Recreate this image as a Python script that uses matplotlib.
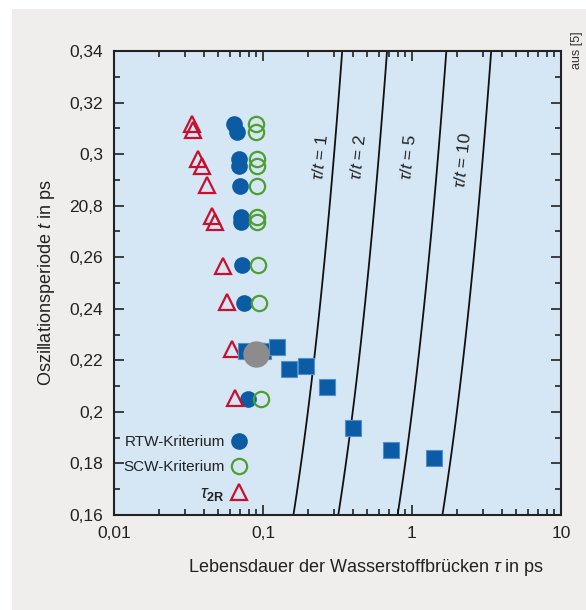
import matplotlib
matplotlib.use("Agg")
import matplotlib.pyplot as plt
import numpy as np
from matplotlib.patches import Rectangle
from matplotlib.ticker import LogLocator, NullFormatter, FixedLocator

FONT = ['Liberation Sans', 'DejaVu Sans']
plt.rcParams['font.family'] = FONT
plt.rcParams['mathtext.fontset'] = 'custom'
plt.rcParams['mathtext.rm'] = 'Liberation Sans'
plt.rcParams['mathtext.it'] = 'Liberation Sans:italic'
plt.rcParams['mathtext.bf'] = 'Liberation Sans:bold'

# ---- data ----
tri_x = [0.0334, 0.0339, 0.0366, 0.0388, 0.0421, 0.0453, 0.0477, 0.0536, 0.0574, 0.0616, 0.0649]
tri_y = [0.3117, 0.3094, 0.2981, 0.2955, 0.2880, 0.2760, 0.2737, 0.2567, 0.2426, 0.2244, 0.2054]

rtw_x = [0.0638, 0.0669, 0.0687, 0.0687, 0.0705, 0.0708, 0.0708, 0.0723, 0.0746, 0.0789]
rtw_y = [0.3117, 0.3087, 0.2981, 0.2955, 0.2876, 0.2757, 0.2736, 0.2568, 0.2423, 0.2051]

scw_x = [0.0897, 0.0897, 0.0907, 0.0907, 0.0916, 0.0916, 0.0916, 0.0925, 0.0944, 0.1000, 0.0970]
scw_y = [0.3117, 0.3087, 0.2981, 0.2955, 0.2876, 0.2757, 0.2736, 0.2568, 0.2423, 0.2238, 0.2051]

sq_x = [0.0774, 0.1000, 0.1236, 0.1488, 0.1945, 0.2677, 0.4036, 0.7227, 1.406]
sq_y = [0.2236, 0.2236, 0.2253, 0.2166, 0.2179, 0.2098, 0.1939, 0.1852, 0.1822]

gray_x = [0.0897]
gray_y = [0.2225]

ratios = [1, 2, 5, 10]
ratio_label_pos = [(0.2413, 0.2989), (0.434, 0.2989), (0.940, 0.2989), (2.198, 0.2977)]

ytick_vals = [0.16, 0.18, 0.20, 0.22, 0.24, 0.26, 0.28, 0.30, 0.32, 0.34]
ytick_labels = ['0,16', '0,18', '0,2', '0,22', '0,24', '0,26', '20,8', '0,3', '0,32', '0,34']
xtick_vals = [0.01, 0.1, 1, 10]
xtick_labels = ['0,01', '0,1', '1', '10']

BLUE = '#0b5ca5'
GREEN = '#4e9f2f'
RED = '#c8102e'
GRAY = '#8c8c8c'
TXT = '#222222'

fig = plt.figure(figsize=(5.86, 6.10), dpi=100)
fig.patch.set_facecolor('white')
fig.patches.append(Rectangle((12 / 586, 0), 1, 1 - 9 / 610, transform=fig.transFigure,
                             facecolor='#efeeed', edgecolor='none', zorder=-10))

ax = fig.add_axes([114 / 586, 1 - 515 / 610, 447 / 586, 464 / 610])
ax.set_facecolor('#d5e6f5')
ax.set_xscale('log')
ax.set_xlim(0.01, 10)
ax.set_ylim(0.16, 0.34)

# ratio lines tau = k * t
yy = np.linspace(0.16, 0.34, 50)
for k, (lx, ly) in zip(ratios, ratio_label_pos):
    ax.plot(k * yy, yy, color='#111111', lw=1.3, zorder=2)
    ax.text(lx, ly, r'$\tau/t$' + ' = ' + str(k), rotation=84, ha='center', va='center',
            fontsize=12.5, color=TXT, rotation_mode='anchor')

h_rtw, = ax.plot(rtw_x, rtw_y, 'o', ms=12, color=BLUE, mec=BLUE, mew=0, ls='none', zorder=4,
                 label='RTW-Kriterium')
h_scw, = ax.plot(scw_x, scw_y, 'o', ms=11, mfc='none', mec=GREEN, mew=1.6, ls='none', zorder=5,
                 label='SCW-Kriterium')
h_tri, = ax.plot(tri_x, tri_y, '^', ms=11, mfc='none', mec=RED, mew=1.6, ls='none', zorder=5,
                 label=r'$\tau_{\mathbf{2R}}$')
ax.plot(sq_x, sq_y, 's', ms=12, color=BLUE, mec='#4f8fcb', mew=0.8, ls='none', zorder=6)
ax.plot(gray_x, gray_y, 'o', ms=19, color=GRAY, mew=0, ls='none', zorder=7)

leg = ax.legend(handles=[h_rtw, h_scw, h_tri], loc='lower right',
                bbox_to_anchor=(0.316, 0.010), frameon=False, markerfirst=False,
                fontsize=11, handlelength=1.1, handletextpad=0.4, labelspacing=0.7,
                borderpad=0.0)
for t in leg.get_texts():
    t.set_color(TXT)
leg.get_texts()[2].set_fontsize(13)

# ticks
ax.set_yticks(ytick_vals)
ax.set_yticklabels(ytick_labels)
ax.yaxis.set_minor_locator(FixedLocator(np.arange(0.17, 0.34, 0.02)))
ax.set_xticks(xtick_vals)
ax.set_xticklabels(xtick_labels)
ax.xaxis.set_minor_locator(LogLocator(base=10, subs=np.arange(2, 10)))
ax.xaxis.set_minor_formatter(NullFormatter())
ax.tick_params(which='both', direction='in', top=True, right=True, color=TXT,
               labelsize=12.5, labelcolor=TXT, width=1.2)
ax.tick_params(which='major', length=7, pad=8)
ax.tick_params(which='minor', length=4)
for s in ax.spines.values():
    s.set_linewidth(1.5)
    s.set_color(TXT)

fig.text(47 / 586, 1 - 283 / 610, r'Oszillationsperiode $t$ in ps', rotation=90,
         ha='center', va='center', fontsize=13, color=TXT)
fig.text(366 / 586, 1 - 567 / 610, r'Lebensdauer der Wasserstoffbrücken $\tau$ in ps',
         ha='center', va='center', fontsize=13, color=TXT)
fig.text(577 / 586, 1 - 50 / 610, 'aus [5]', rotation=90, ha='center', va='center',
         fontsize=9, color='#333333')

fig.savefig('out.png', dpi=100, facecolor=fig.get_facecolor())
